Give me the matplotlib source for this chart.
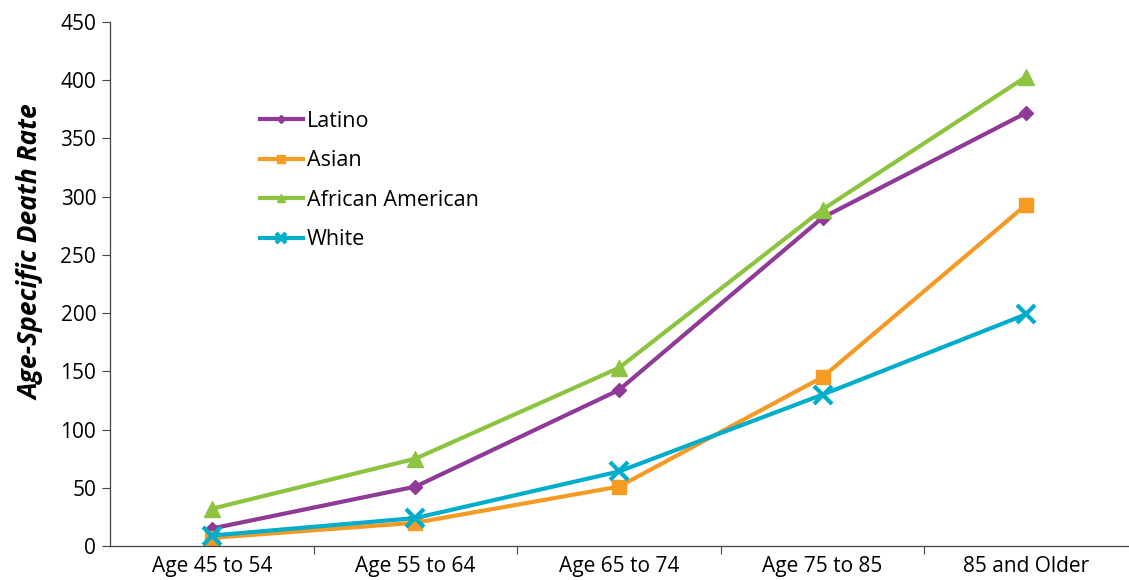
import matplotlib
matplotlib.use('Agg')
import matplotlib.pyplot as plt
import numpy as np

# age groups on the x axis
age_groups = ['Age 45 to 54', 'Age 55 to 64', 'Age 65 to 74', 'Age 75 to 85', '85 and Older']

# age-specific death rates per group
latino = [15, 51, 134, 282, 372]
asian = [7, 20, 51, 145, 293]
african_american = [32, 75, 153, 289, 403]
white = [9, 24, 64, 130, 199]

plt.rcParams['font.family'] = ['Open Sans', 'DejaVu Sans']

fig = plt.figure(figsize=(11.29, 5.8), dpi=100)
ax = fig.add_axes([0.0975, 0.0586, 0.9015, 0.9034])

x = np.arange(len(age_groups)) + 0.5

ax.plot(x, latino, color='#8E3A96', lw=3, marker='D', ms=7, label='Latino')
ax.plot(x, asian, color='#F59A23', lw=3, marker='s', ms=10, label='Asian')
ax.plot(x, african_american, color='#8CC43F', lw=3, marker='^', ms=11, label='African American')
ax.plot(x, white, color='#00AECB', lw=3, marker='x', ms=13, mew=3, label='White')

ax.set_xlim(0, len(age_groups))
ax.set_ylim(0, 450)
ax.set_yticks(range(0, 451, 50))

# category labels centred, tick marks between categories
ax.set_xticks(np.arange(1, len(age_groups)))
ax.set_xticklabels([])
ax.set_xticks(x, minor=True)
ax.set_xticklabels(age_groups, minor=True)
ax.tick_params(axis='x', which='minor', length=0, pad=7, labelsize=15)
ax.tick_params(axis='x', which='major', length=6, color='#444444')
ax.tick_params(axis='y', length=6, color='#444444', labelsize=15, pad=4)

for side in ['top', 'right']:
    ax.spines[side].set_visible(False)
for side in ['left', 'bottom']:
    ax.spines[side].set_color('#444444')
    ax.spines[side].set_linewidth(0.9)

ax.set_ylabel('Age-Specific Death Rate', fontsize=19, fontweight='bold', style='italic')
ax.yaxis.set_label_coords(-0.0645, 0.56)

ax.legend(loc='upper left', bbox_to_anchor=(0.128, 0.868), frameon=False, fontsize=15.5,
          handlelength=2.0, handletextpad=0.2, labelspacing=0.86, markerscale=0.55)

fig.savefig('out.png', dpi=100)
